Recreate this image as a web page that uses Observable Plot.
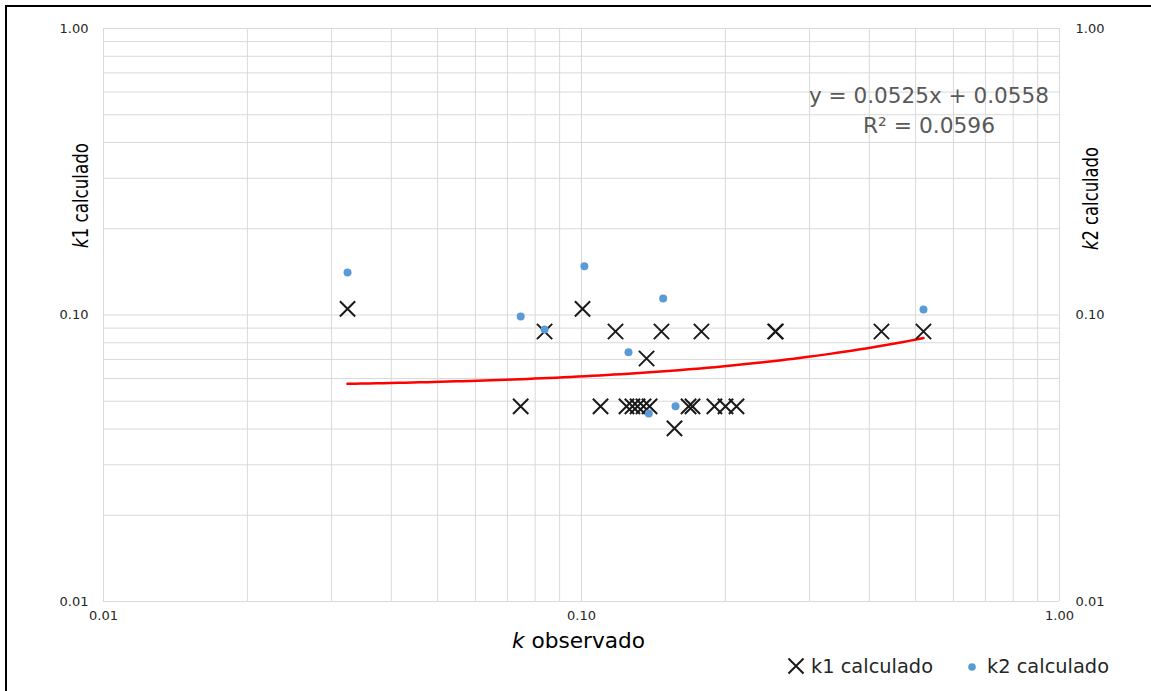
<!DOCTYPE html>
<html><head><meta charset="utf-8">
<script src="https://cdn.jsdelivr.net/npm/d3@7"></script>
<script src="https://cdn.jsdelivr.net/npm/@observablehq/plot@0.6"></script>
<style>
body{margin:0;background:#fff;font-family:"DejaVu Sans",sans-serif;}
#wrap{position:relative;width:1151px;height:691px;overflow:hidden;background:#fff}
#frame{position:absolute;left:5px;top:5px;width:1300px;height:900px;border-left:2px solid #000;border-top:2px solid #000;pointer-events:none}
#wrap svg{position:absolute;left:0;top:0}
</style></head><body><div id="wrap"><div id="frame"></div></div>
<script>
// k1 calculado series (x = k observado, y = k1 calculado)
const k1Obs  = [0.0324, 0.0746, 0.0837, 0.1005, 0.1096, 0.1178, 0.1242, 0.1278, 0.1310, 0.1348, 0.1388, 0.1368, 0.1470, 0.1565, 0.1675, 0.1707, 0.1782, 0.1897, 0.2001, 0.2110, 0.2542, 0.2550, 0.4242, 0.5193];
const k1Calc = [0.105,  0.048,  0.0876, 0.105,  0.048,  0.0876, 0.048,  0.048,  0.048,  0.048,  0.048,  0.0705, 0.0876, 0.0402, 0.048,  0.048,  0.0876, 0.048,  0.048,  0.048,  0.0876, 0.0876, 0.0876, 0.0876];
// k2 calculado series
const k2Obs  = [0.0324, 0.0746, 0.0837, 0.1014, 0.1254, 0.1482, 0.1383, 0.1573, 0.5193];
const k2Calc = [0.1407, 0.0988, 0.0890, 0.1480, 0.0742, 0.1142, 0.0453, 0.0480, 0.1045];
// linear trendline shown on chart
const trendSlope = 0.0525, trendIntercept = 0.0558;
const trendLabel = "y = 0.0525x + 0.0558";
const r2Label = "R² = 0.0596";
// axes
const majorTicks = [0.01, 0.1, 1];
const gridTicks = [0.01,0.02,0.03,0.04,0.05,0.06,0.07,0.08,0.09,0.1,0.2,0.3,0.4,0.5,0.6,0.7,0.8,0.9,1];
const seriesNames = ["k1 calculado", "k2 calculado"];

const k1 = k1Obs.map((x, i) => ({x, y: k1Calc[i]}));
const k2 = k2Obs.map((x, i) => ({x, y: k2Calc[i]}));
const x0 = d3.min(k1Obs), x1 = d3.max(k1Obs);
const trend = d3.range(0, 81).map(i => {
  const x = x0 * Math.pow(x1 / x0, i / 80);
  return {x, y: trendSlope * x + trendIntercept};
});
const fmt = d3.format(".2f");
const tickStyle = {tickSize: 0, tickFormat: fmt, label: null, fontSize: 13, fill: "#262626"};

const chart = Plot.plot({
  width: 1151, height: 691,
  marginLeft: 103, marginRight: 92, marginTop: 28, marginBottom: 90,
  style: {background: "transparent", fontFamily: "'DejaVu Sans', sans-serif", fontSize: "13px", color: "#262626"},
  x: {type: "log", domain: [0.01, 1]},
  y: {type: "log", domain: [0.01, 1]},
  marks: [
    Plot.ruleX(gridTicks, {stroke: "#d9d9d9", strokeWidth: 1, strokeOpacity: 1}),
    Plot.ruleY(gridTicks, {stroke: "#d9d9d9", strokeWidth: 1, strokeOpacity: 1}),
    Plot.axisX(majorTicks, {...tickStyle, tickPadding: 9}),
    Plot.axisY(majorTicks, {...tickStyle, anchor: "left", tickPadding: 15}),
    Plot.axisY(majorTicks, {...tickStyle, anchor: "right", tickPadding: 16}),
    Plot.line(trend, {x: "x", y: "y", stroke: "#ff0000", strokeWidth: 2.5}),
    Plot.dot(k1, {x: "x", y: "y", symbol: "times", r: 7, stroke: "#1a1a1a", strokeWidth: 2}),
    Plot.dot(k2, {x: "x", y: "y", r: 4, fill: "#5b9bd5", stroke: "none"})
  ]
});
document.getElementById("wrap").appendChild(chart);

const svg = d3.select(chart);
const g = svg.append("g").attr("font-family", "'DejaVu Sans', sans-serif");
function label(x, y, rot, size, len, parts, anchor, fill) {
  const t = g.append("text")
    .attr("transform", `translate(${x},${y})` + (rot ? ` rotate(${rot})` : ""))
    .attr("text-anchor", anchor).attr("font-size", size).attr("fill", fill)
    .attr("textLength", len).attr("lengthAdjust", "spacingAndGlyphs");
  parts.forEach(([txt, italic]) => {
    const s = t.append("tspan").text(txt);
    if (italic) s.attr("font-style", "italic");
  });
  return t;
}
// axis titles
label(88, 195.5, -90, 21, 105, [["k", true], ["1 calculado", false]], "middle", "#000");
label(1098, 198.5, -90, 21, 103, [["k", true], ["2 calculado", false]], "middle", "#000");
label(578.5, 648, 0, 21, 133, [["k", true], [" observado", false]], "middle", "#000");
// trendline equation
label(929, 103, 0, 21, 240, [[trendLabel, false]], "middle", "#595959");
label(929, 133, 0, 21, 132, [[r2Label, false]], "middle", "#595959");
// legend
g.append("path").attr("d", d3.symbol(d3.symbolTimes, 150)()).attr("transform", "translate(796,666)")
  .attr("stroke", "#1a1a1a").attr("stroke-width", 2).attr("fill", "none");
label(811, 673, 0, 19, 122, [[seriesNames[0], false]], "start", "#262626");
g.append("circle").attr("cx", 972).attr("cy", 667).attr("r", 3.8).attr("fill", "#5b9bd5");
label(987, 673, 0, 19, 122, [[seriesNames[1], false]], "start", "#262626");
</script></body></html>
